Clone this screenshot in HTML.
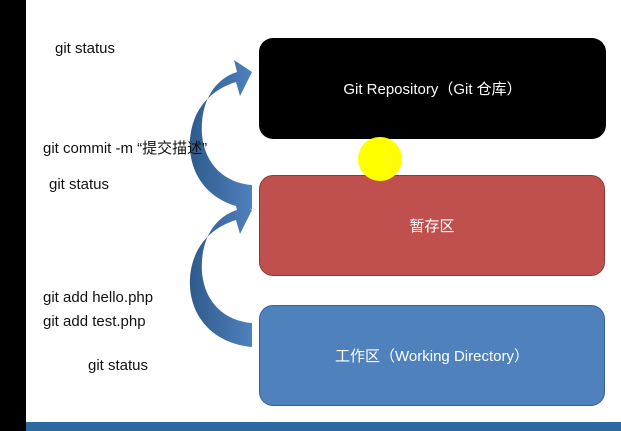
<!DOCTYPE html>
<html><head><style>
body{margin:0;width:621px;height:431px;overflow:hidden;background:#fff;position:relative;font-family:"Liberation Sans","Noto Sans CJK SC",sans-serif;}
.t{position:absolute;font-size:15px;color:#111;white-space:nowrap;line-height:18px}
.box{position:absolute;border-radius:14px;color:#fff;font-size:15px;display:flex;align-items:center;justify-content:center;box-sizing:border-box}
</style></head><body>
<div style="position:absolute;left:0;top:0;width:26px;height:431px;background:#000"></div>
<div style="position:absolute;left:26px;top:422px;width:595px;height:9px;background:#2a6aa0"></div>
<div class="box" style="left:259px;top:38px;width:347px;height:101px;background:#000">Git Repository（Git 仓库）</div>
<div class="box" style="left:259px;top:175px;width:346px;height:101px;background:#c0504d;border:1px solid #8c3a38">暂存区</div>
<div class="box" style="left:259px;top:305px;width:346px;height:101px;background:#4f81bd;border:1px solid #3a6190">工作区（Working Directory）</div>
<svg width="621" height="431" style="position:absolute;left:0;top:0">
<defs><linearGradient id="g" x1="0" x2="1"><stop offset="0" stop-color="#2f5a8c"/><stop offset="1" stop-color="#4f81bd"/></linearGradient></defs>
<g fill="url(#g)">
<path d="M252,209 C210,205 188,175 190,140 C192,110 210,90 236,82 L240,96 L252,72 L234,60 L237,72 C212,80 200,105 202,135 C205,165 225,183 252,185 Z"/>
<path transform="translate(0,138)" d="M252,209 C210,205 188,175 190,140 C192,110 210,90 236,82 L240,96 L252,72 L234,60 L237,72 C212,80 200,105 202,135 C205,165 225,183 252,185 Z"/>
</g>
<circle cx="380" cy="159" r="22" fill="#ffff00"/>
</svg>
<div class="t" style="left:55px;top:40px">git status</div>
<div class="t" style="left:43px;top:140px">git commit -m “提交描述”</div>
<div class="t" style="left:49px;top:176px">git status</div>
<div class="t" style="left:43px;top:289px">git add hello.php</div>
<div class="t" style="left:43px;top:313px">git add test.php</div>
<div class="t" style="left:88px;top:357px">git status</div>
</body></html>
